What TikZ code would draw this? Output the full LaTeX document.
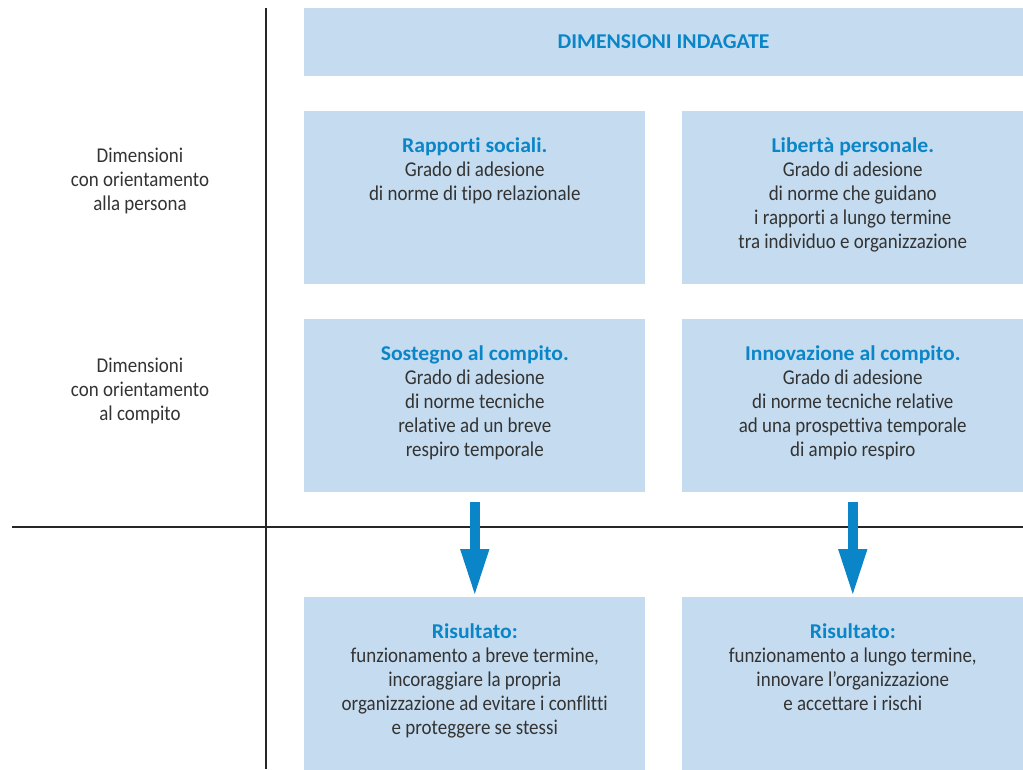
\documentclass[tikz,border=0pt]{standalone}
\usepackage{fontspec}
\setmainfont{Carlito}[FakeStretch=0.9,Ligatures=NoCommon,BoldFeatures={FakeStretch=1.03}]
\usetikzlibrary{arrows.meta}
\definecolor{boxblue}{HTML}{C5DCF0}
\definecolor{headblue}{HTML}{0A86C8}
\definecolor{txtgray}{HTML}{333333}
\newcommand{\hd}[1]{\textbf{\color{headblue}#1}}

\begin{document}
\begin{tikzpicture}[x=0.75pt,y=-0.75pt,
  box/.style={fill=boxblue,anchor=north west,inner sep=0pt,minimum width=255.75pt,minimum height=129.75pt},
  txt/.style={anchor=north,align=center,inner sep=0pt,text=txtgray,font=\fontsize{15.8}{18}\selectfont},
  side/.style={align=center,text=txtgray,font=\fontsize{15.8}{18}\selectfont},
  axis/.style={draw=black!85,line width=1.1pt},
  down/.style={draw=headblue,line width=7.5pt,-{Triangle[width=19.5pt,length=36pt]},shorten <=6.75pt}]
\useasboundingbox (0,0) rectangle (1023,769);

\node[box,minimum width=539.25pt,minimum height=51pt] (top) at (304,8) {};
\node[font=\fontsize{15.8}{18}\selectfont] (toptxt) at (663.5,42) {\hd{DIMENSIONI INDAGATE}};

\node[box] (soc) at (304,111) {};
\node[box] (lib) at (682,111) {};
\node[box] (sos) at (304,319) {};
\node[box] (inn) at (682,319) {};
\node[box] (rbr) at (304,597) {};
\node[box] (rlu) at (682,597) {};

\node[txt] (soctxt) at ([yshift=-20pt]soc.north) {\hd{Rapporti sociali.}\\Grado di adesione\\di norme di tipo relazionale};
\node[txt] (libtxt) at ([yshift=-20pt]lib.north) {\hd{Libertà personale.}\\Grado di adesione\\di norme che guidano\\i rapporti a lungo termine\\tra individuo e organizzazione};
\node[txt] (sostxt) at ([yshift=-20pt]sos.north) {\hd{Sostegno al compito.}\\Grado di adesione\\di norme tecniche\\relative ad un breve\\respiro temporale};
\node[txt] (inntxt) at ([yshift=-20pt]inn.north) {\hd{Innovazione al compito.}\\Grado di adesione\\di norme tecniche relative\\ad una prospettiva temporale\\di ampio respiro};
\node[txt] (rbrtxt) at ([yshift=-20pt]rbr.north) {\hd{Risultato:}\\funzionamento a breve termine,\\incoraggiare la propria\\organizzazione ad evitare i conflitti\\e proteggere se stessi};
\node[txt] (rlutxt) at ([yshift=-20pt]rlu.north) {\hd{Risultato:}\\funzionamento a lungo termine,\\innovare l’organizzazione\\e accettare i rischi};

\node[side] (pers) at (140,181) {Dimensioni\\con orientamento\\alla persona};
\node[side] (comp) at (140,391) {Dimensioni\\con orientamento\\al compito};

\coordinate (vtop) at (266,8);
\coordinate (vbot) at (266,769);
\coordinate (hl) at (12,527);
\coordinate (hr) at (1023,527);
\draw[axis] (vtop) -- (vbot);
\draw[axis] (hl) -- (hr);

\draw[down] (sos.south) -- (rbr.north);
\draw[down] (inn.south) -- (rlu.north);
\end{tikzpicture}
\end{document}
